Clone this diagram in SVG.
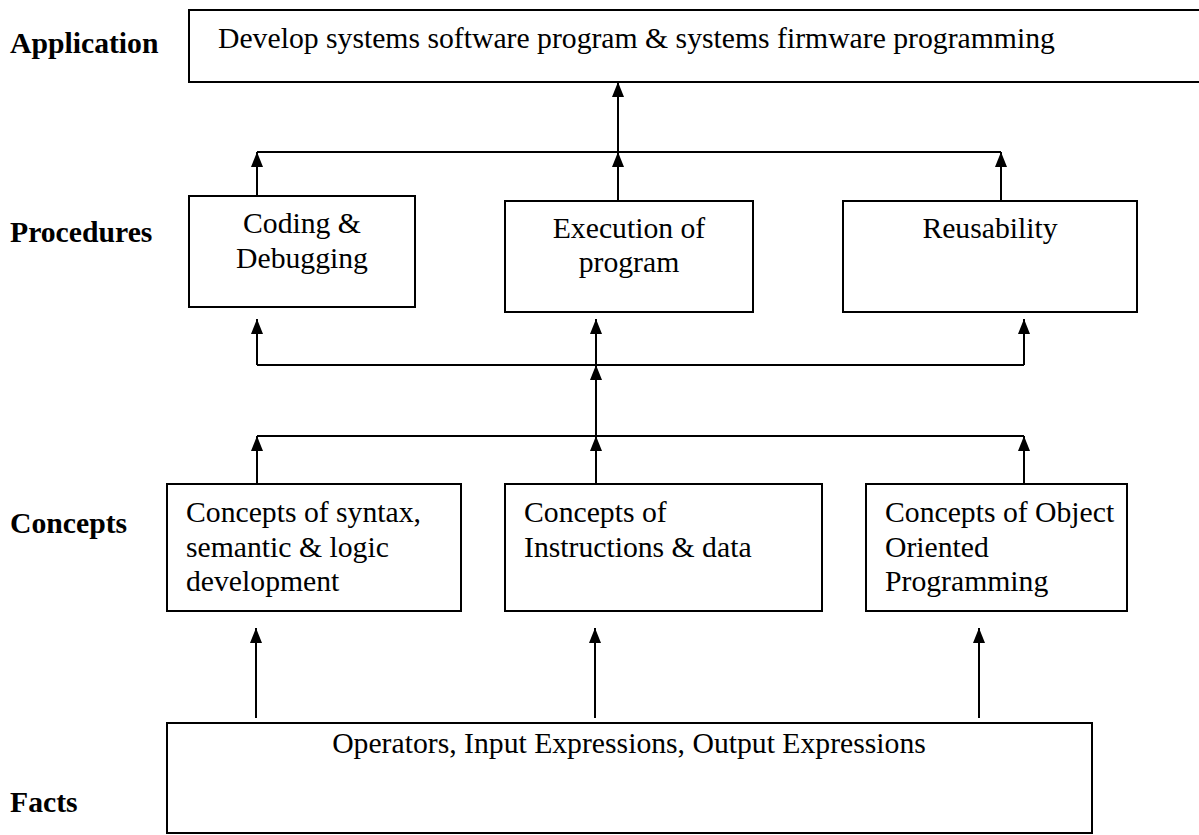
<svg xmlns="http://www.w3.org/2000/svg" width="1199" height="835" viewBox="0 0 1199 835">
<defs>
<marker id="arr" viewBox="0 0 15 12" refX="15" refY="6" markerWidth="15" markerHeight="12" markerUnits="userSpaceOnUse" orient="auto">
<path d="M0,0 L15,6 L0,12 Z" fill="#000"/>
</marker>
<style>
.box{fill:#fff;stroke:#000;stroke-width:2}
.t{font-family:"Liberation Serif","Times New Roman",serif;font-size:29.7px;fill:#000}
.lbl{font-family:"Liberation Serif","Times New Roman",serif;font-size:29.7px;font-weight:bold;fill:#000}
.c{text-anchor:middle}
.ln{stroke:#000;stroke-width:2;fill:none}
.ar{stroke:#000;stroke-width:2;fill:none;marker-end:url(#arr)}
</style>
</defs>
<rect width="1199" height="835" fill="#fff"/>

<g id="labels">
<text class="lbl" x="10" y="53">Application</text>
<text class="lbl" x="10" y="242">Procedures</text>
<text class="lbl" x="10" y="533">Concepts</text>
<text class="lbl" x="10" y="812">Facts</text>
</g>

<g id="connectors">
<line class="ar" x1="618" y1="152" x2="618" y2="82"/>
<line class="ln" x1="257" y1="152" x2="1001" y2="152"/>
<line class="ar" x1="257" y1="196" x2="257" y2="152"/>
<line class="ar" x1="618" y1="201" x2="618" y2="152"/>
<line class="ar" x1="1001" y1="201" x2="1001" y2="152"/>

<line class="ln" x1="257" y1="365" x2="1024" y2="365"/>
<line class="ar" x1="257" y1="365" x2="257" y2="319"/>
<line class="ar" x1="596" y1="365" x2="596" y2="319"/>
<line class="ar" x1="1024" y1="365" x2="1024" y2="319"/>
<line class="ar" x1="596" y1="436" x2="596" y2="365"/>

<line class="ln" x1="257" y1="436" x2="1024" y2="436"/>
<line class="ar" x1="257" y1="484" x2="257" y2="436"/>
<line class="ar" x1="596" y1="484" x2="596" y2="436"/>
<line class="ar" x1="1024" y1="484" x2="1024" y2="436"/>

<line class="ar" x1="256" y1="718" x2="256" y2="628"/>
<line class="ar" x1="595" y1="718" x2="595" y2="628"/>
<line class="ar" x1="979" y1="718" x2="979" y2="628"/>
</g>

<g id="application">
<rect class="box" x="189" y="10" width="1020" height="72"/>
<text class="t" x="218" y="48">Develop systems software program &amp; systems firmware programming</text>
</g>

<g id="coding">
<rect class="box" x="189" y="196" width="226" height="111"/>
<text class="t c" x="302" y="233">Coding &amp;</text>
<text class="t c" x="302" y="268">Debugging</text>
</g>

<g id="execution">
<rect class="box" x="505" y="201" width="248" height="111"/>
<text class="t c" x="629" y="238">Execution of</text>
<text class="t c" x="629" y="272">program</text>
</g>

<g id="reusability">
<rect class="box" x="843" y="201" width="294" height="111"/>
<text class="t c" x="990" y="238">Reusability</text>
</g>

<g id="concepts-syntax">
<rect class="box" x="167" y="484" width="294" height="127"/>
<text class="t" x="186" y="522">Concepts of syntax,</text>
<text class="t" x="186" y="557">semantic &amp; logic</text>
<text class="t" x="186" y="591">development</text>
</g>

<g id="concepts-instructions">
<rect class="box" x="505" y="484" width="317" height="127"/>
<text class="t" x="524" y="522">Concepts of</text>
<text class="t" x="524" y="557">Instructions &amp; data</text>
</g>

<g id="concepts-oop">
<rect class="box" x="866" y="484" width="261" height="127"/>
<text class="t" x="885" y="522">Concepts of Object</text>
<text class="t" x="885" y="557">Oriented</text>
<text class="t" x="885" y="591">Programming</text>
</g>

<g id="facts">
<rect class="box" x="167" y="723" width="925" height="110"/>
<text class="t c" x="629" y="753">Operators, Input Expressions, Output Expressions</text>
</g>
</svg>
